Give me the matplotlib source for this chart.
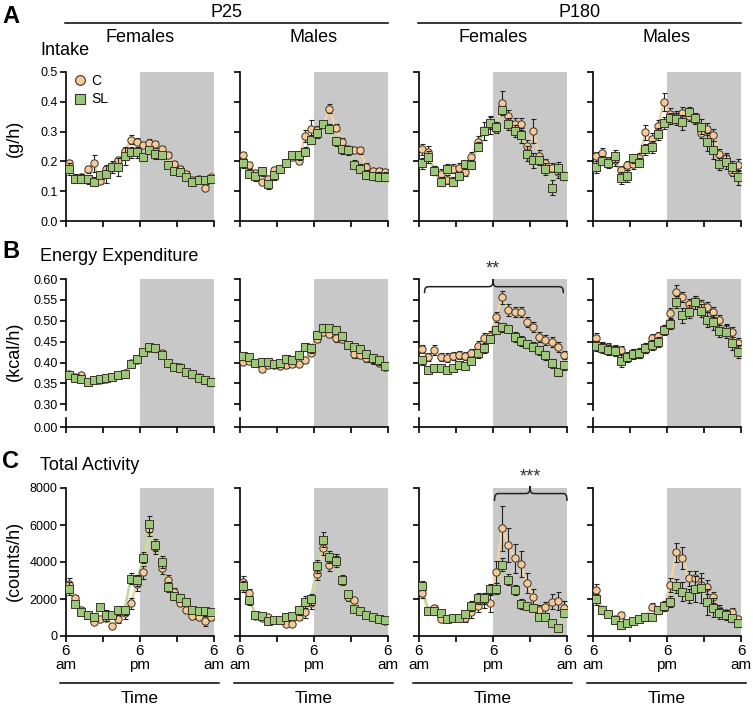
import numpy as np
import matplotlib
matplotlib.use('Agg')
import matplotlib.pyplot as plt
from matplotlib.path import Path
from matplotlib.patches import PathPatch
from matplotlib.lines import Line2D

plt.rcParams['font.family'] = ['Liberation Sans', 'DejaVu Sans']

# hourly bins, 6 am -> 6 am
hours = np.arange(24) + 0.5

# ---- Intake (g/h) ----
intake_p25_f_c = [0.193, 0.145, 0.148, 0.174, 0.193, 0.133, 0.176, 0.185, 0.204, 0.234, 0.272, 0.266,
                  0.254, 0.262, 0.257, 0.243, 0.221, 0.190, 0.176, 0.159, 0.137, 0.142, 0.112, 0.146]
intake_p25_f_sl = [0.176, 0.142, 0.142, 0.140, 0.131, 0.154, 0.157, 0.182, 0.182, 0.217, 0.230, 0.230,
                   0.215, 0.238, 0.224, 0.221, 0.187, 0.168, 0.165, 0.146, 0.131, 0.139, 0.137, 0.142]
intake_p25_m_c = [0.221, 0.187, 0.160, 0.131, 0.140, 0.170, 0.176, 0.196, 0.215, 0.200, 0.286, 0.310,
                  0.307, 0.324, 0.376, 0.313, 0.266, 0.241, 0.238, 0.238, 0.182, 0.168, 0.168, 0.165]
intake_p25_m_sl = [0.193, 0.159, 0.150, 0.167, 0.123, 0.154, 0.176, 0.196, 0.221, 0.221, 0.232, 0.273,
                   0.294, 0.324, 0.310, 0.268, 0.241, 0.238, 0.189, 0.176, 0.156, 0.151, 0.148, 0.148]
intake_p180_f_c = [0.240, 0.232, 0.170, 0.159, 0.139, 0.176, 0.179, 0.165, 0.215, 0.266, 0.302, 0.322,
                   0.310, 0.397, 0.353, 0.325, 0.325, 0.252, 0.302, 0.219, 0.193, 0.179, 0.165, 0.151]
intake_p180_f_sl = [0.193, 0.215, 0.168, 0.131, 0.176, 0.131, 0.151, 0.190, 0.189, 0.249, 0.302, 0.330,
                    0.316, 0.372, 0.327, 0.302, 0.288, 0.226, 0.204, 0.204, 0.173, 0.111, 0.179, 0.151]
intake_p180_m_c = [0.217, 0.229, 0.200, 0.206, 0.170, 0.187, 0.190, 0.213, 0.297, 0.274, 0.318, 0.398,
                   0.358, 0.350, 0.361, 0.352, 0.339, 0.294, 0.310, 0.288, 0.226, 0.213, 0.165, 0.187]
intake_p180_m_sl = [0.182, 0.202, 0.193, 0.219, 0.145, 0.151, 0.210, 0.195, 0.240, 0.249, 0.291, 0.330,
                    0.344, 0.342, 0.331, 0.367, 0.344, 0.316, 0.266, 0.238, 0.190, 0.198, 0.182, 0.146]

intake_p25_f_c_err = [0.012, 0.010, 0.010, 0.012, 0.030, 0.008, 0.010, 0.008, 0.010, 0.012, 0.015, 0.012,
                      0.010, 0.012, 0.012, 0.010, 0.010, 0.010, 0.008, 0.010, 0.008, 0.008, 0.008, 0.008]
intake_p25_f_sl_err = [0.020, 0.015, 0.015, 0.015, 0.015, 0.010, 0.030, 0.020, 0.030, 0.030, 0.018, 0.020,
                       0.012, 0.012, 0.015, 0.012, 0.010, 0.010, 0.010, 0.010, 0.012, 0.012, 0.012, 0.010]
intake_p25_m_c_err = [0.010, 0.010, 0.010, 0.010, 0.010, 0.010, 0.010, 0.010, 0.010, 0.010, 0.020, 0.030,
                      0.012, 0.010, 0.015, 0.012, 0.012, 0.010, 0.010, 0.012, 0.012, 0.010, 0.010, 0.010]
intake_p25_m_sl_err = [0.015, 0.015, 0.015, 0.015, 0.015, 0.015, 0.012, 0.012, 0.012, 0.015, 0.015, 0.015,
                       0.015, 0.012, 0.015, 0.015, 0.015, 0.015, 0.015, 0.015, 0.015, 0.012, 0.015, 0.015]
intake_p180_f_c_err = [0.020, 0.020, 0.015, 0.015, 0.015, 0.015, 0.015, 0.015, 0.015, 0.020, 0.030, 0.030,
                       0.015, 0.040, 0.020, 0.020, 0.020, 0.020, 0.040, 0.020, 0.015, 0.015, 0.020, 0.015]
intake_p180_f_sl_err = [0.020, 0.020, 0.015, 0.015, 0.015, 0.015, 0.015, 0.015, 0.015, 0.015, 0.015, 0.020,
                        0.015, 0.015, 0.020, 0.020, 0.025, 0.025, 0.025, 0.015, 0.020, 0.025, 0.020, 0.015]
intake_p180_m_c_err = [0.015, 0.015, 0.015, 0.020, 0.015, 0.015, 0.015, 0.015, 0.025, 0.020, 0.020, 0.030,
                       0.020, 0.020, 0.020, 0.015, 0.015, 0.015, 0.020, 0.020, 0.015, 0.015, 0.015, 0.020]
intake_p180_m_sl_err = [0.020, 0.015, 0.015, 0.020, 0.020, 0.020, 0.015, 0.015, 0.020, 0.020, 0.020, 0.020,
                        0.020, 0.020, 0.025, 0.015, 0.020, 0.025, 0.030, 0.030, 0.020, 0.025, 0.020, 0.025]

# ---- Energy expenditure (kcal/h) ----
ee_p25_f_c = [0.373, 0.366, 0.369, 0.354, 0.357, 0.358, 0.361, 0.366, 0.369, 0.374, 0.398, 0.406,
              0.425, 0.434, 0.434, 0.424, 0.400, 0.390, 0.389, 0.378, 0.372, 0.366, 0.358, 0.354]
ee_p25_f_sl = [0.370, 0.364, 0.361, 0.354, 0.358, 0.361, 0.364, 0.366, 0.370, 0.373, 0.396, 0.408,
               0.425, 0.436, 0.434, 0.418, 0.398, 0.390, 0.388, 0.377, 0.372, 0.364, 0.357, 0.354]
ee_p25_m_c = [0.402, 0.404, 0.398, 0.384, 0.394, 0.394, 0.392, 0.394, 0.396, 0.397, 0.406, 0.424,
              0.456, 0.474, 0.468, 0.458, 0.456, 0.442, 0.420, 0.418, 0.410, 0.405, 0.400, 0.390]
ee_p25_m_sl = [0.416, 0.414, 0.398, 0.401, 0.402, 0.396, 0.398, 0.408, 0.406, 0.418, 0.437, 0.434,
               0.466, 0.482, 0.482, 0.478, 0.464, 0.442, 0.437, 0.433, 0.420, 0.410, 0.405, 0.392]
ee_p180_f_c = [0.433, 0.414, 0.429, 0.414, 0.412, 0.416, 0.418, 0.416, 0.422, 0.440, 0.458, 0.464,
               0.510, 0.556, 0.526, 0.522, 0.522, 0.498, 0.486, 0.462, 0.454, 0.449, 0.438, 0.418]
ee_p180_f_sl = [0.405, 0.382, 0.386, 0.388, 0.382, 0.386, 0.393, 0.392, 0.404, 0.422, 0.434, 0.456,
                0.478, 0.484, 0.481, 0.460, 0.452, 0.445, 0.438, 0.429, 0.417, 0.398, 0.378, 0.393]
ee_p180_m_c = [0.458, 0.440, 0.437, 0.433, 0.430, 0.414, 0.422, 0.422, 0.434, 0.458, 0.464, 0.480,
               0.518, 0.570, 0.556, 0.540, 0.548, 0.537, 0.533, 0.520, 0.502, 0.481, 0.473, 0.446]
ee_p180_m_sl = [0.440, 0.434, 0.429, 0.428, 0.404, 0.414, 0.420, 0.422, 0.434, 0.442, 0.450, 0.478,
                0.492, 0.545, 0.513, 0.522, 0.544, 0.524, 0.502, 0.496, 0.476, 0.474, 0.446, 0.426]

ee_p25_f_c_err = [0.005, 0.005, 0.005, 0.005, 0.005, 0.005, 0.005, 0.005, 0.005, 0.005, 0.006, 0.006,
                  0.006, 0.006, 0.006, 0.006, 0.006, 0.005, 0.005, 0.005, 0.005, 0.005, 0.005, 0.005]
ee_p25_f_sl_err = [0.008, 0.008, 0.008, 0.008, 0.008, 0.007, 0.007, 0.007, 0.008, 0.008, 0.010, 0.010,
                   0.008, 0.008, 0.008, 0.008, 0.008, 0.008, 0.008, 0.008, 0.008, 0.008, 0.008, 0.010]
ee_p25_m_c_err = [0.006, 0.006, 0.006, 0.006, 0.006, 0.006, 0.006, 0.006, 0.006, 0.006, 0.006, 0.006,
                  0.008, 0.008, 0.008, 0.008, 0.008, 0.008, 0.008, 0.008, 0.008, 0.008, 0.008, 0.008]
ee_p25_m_sl_err = [0.010, 0.010, 0.008, 0.010, 0.010, 0.008, 0.008, 0.010, 0.010, 0.010, 0.010, 0.010,
                   0.010, 0.010, 0.008, 0.010, 0.010, 0.008, 0.008, 0.010, 0.010, 0.010, 0.010, 0.010]
ee_p180_f_c_err = [0.010, 0.010, 0.012, 0.010, 0.010, 0.010, 0.010, 0.010, 0.010, 0.012, 0.012, 0.012,
                   0.012, 0.015, 0.015, 0.012, 0.012, 0.012, 0.012, 0.012, 0.012, 0.012, 0.012, 0.010]
ee_p180_f_sl_err = [0.010, 0.010, 0.008, 0.008, 0.008, 0.008, 0.008, 0.008, 0.008, 0.010, 0.010, 0.010,
                    0.010, 0.010, 0.010, 0.012, 0.012, 0.010, 0.010, 0.010, 0.010, 0.010, 0.010, 0.010]
ee_p180_m_c_err = [0.012, 0.010, 0.010, 0.010, 0.010, 0.010, 0.010, 0.010, 0.010, 0.010, 0.010, 0.010,
                   0.012, 0.015, 0.012, 0.012, 0.012, 0.012, 0.012, 0.012, 0.012, 0.012, 0.012, 0.012]
ee_p180_m_sl_err = [0.012, 0.012, 0.012, 0.012, 0.015, 0.012, 0.012, 0.012, 0.012, 0.012, 0.012, 0.012,
                    0.012, 0.015, 0.018, 0.015, 0.015, 0.015, 0.018, 0.018, 0.015, 0.015, 0.015, 0.015]

# ---- Total activity (counts/h) ----
act_p25_f_c = [2830, 2050, 1420, 1120, 760, 940, 1000, 540, 900, 1240, 1780, 2800,
               3440, 5800, 4800, 3660, 3030, 2380, 1800, 1420, 1080, 1020, 810, 1030]
act_p25_f_sl = [2560, 1710, 1300, 1120, 1030, 1570, 1120, 1120, 1390, 1390, 3100, 3010,
                4230, 6050, 4920, 4000, 2650, 2160, 2070, 1850, 1420, 1330, 1330, 1280]
act_p25_m_c = [2920, 2320, 1100, 970, 1030, 850, 850, 670, 670, 1030, 1300, 1800,
               3330, 4760, 3860, 4130, 3000, 2100, 1930, 1350, 1120, 1030, 900, 800]
act_p25_m_sl = [2700, 1930, 1150, 1060, 790, 850, 850, 1030, 1060, 1390, 1840, 1980,
                3780, 5210, 4270, 4040, 3050, 2250, 1440, 1350, 1120, 1030, 900, 880]
act_p180_f_c = [2340, 1370, 1500, 900, 900, 950, 960, 1000, 1300, 1620, 1940, 1790,
                3480, 5820, 4920, 4200, 3870, 2850, 2120, 1400, 1550, 1850, 1890, 1500]
act_p180_f_sl = [2720, 1370, 1350, 1220, 910, 960, 1000, 1170, 1620, 2050, 2050, 2520,
                 2550, 3840, 3030, 2490, 1730, 1620, 1500, 1040, 1010, 690, 415, 1230]
act_p180_m_c = [2490, 1400, 1190, 900, 1130, 700, 820, 900, 1010, 1590, 1400, 1620,
                2760, 4520, 4230, 3120, 3120, 2760, 2650, 2090, 1400, 1220, 1310, 900]
act_p180_m_sl = [1980, 1400, 1190, 860, 590, 690, 810, 900, 1010, 1050, 1400, 1620,
                 1860, 2700, 2400, 2160, 2520, 2580, 1860, 1530, 1220, 1140, 950, 690]

act_p25_f_c_err = [300, 150, 150, 100, 100, 100, 150, 100, 200, 300, 300, 350,
                   350, 400, 350, 300, 250, 200, 200, 150, 150, 150, 250, 150]
act_p25_f_sl_err = [350, 150, 150, 150, 100, 150, 300, 150, 250, 250, 300, 300,
                    300, 450, 350, 300, 250, 200, 200, 150, 150, 150, 150, 150]
act_p25_m_c_err = [300, 200, 150, 100, 100, 100, 100, 100, 100, 150, 300, 350,
                   300, 400, 350, 300, 250, 200, 150, 150, 150, 100, 100, 100]
act_p25_m_sl_err = [300, 250, 150, 150, 100, 100, 100, 100, 150, 250, 300, 300,
                    350, 400, 300, 300, 250, 200, 150, 150, 150, 100, 100, 100]
act_p180_f_c_err = [300, 200, 200, 150, 150, 150, 150, 250, 300, 300, 400, 500,
                    600, 1200, 900, 800, 700, 550, 400, 300, 300, 400, 500, 400]
act_p180_f_sl_err = [250, 200, 200, 150, 150, 150, 150, 200, 250, 300, 300, 300,
                     300, 350, 300, 250, 250, 200, 200, 150, 150, 150, 150, 200]
act_p180_m_c_err = [300, 200, 150, 150, 150, 150, 150, 150, 150, 200, 200, 250,
                    400, 500, 600, 400, 400, 350, 400, 300, 250, 200, 200, 150]
act_p180_m_sl_err = [300, 200, 150, 150, 150, 150, 150, 150, 150, 150, 200, 200,
                     300, 400, 500, 400, 700, 800, 700, 500, 300, 250, 200, 200]

ages = ['P25', 'P180']
sexes = ['Females', 'Males']

intake = [(intake_p25_f_c, intake_p25_f_c_err, intake_p25_f_sl, intake_p25_f_sl_err),
          (intake_p25_m_c, intake_p25_m_c_err, intake_p25_m_sl, intake_p25_m_sl_err),
          (intake_p180_f_c, intake_p180_f_c_err, intake_p180_f_sl, intake_p180_f_sl_err),
          (intake_p180_m_c, intake_p180_m_c_err, intake_p180_m_sl, intake_p180_m_sl_err)]
energy = [(ee_p25_f_c, ee_p25_f_c_err, ee_p25_f_sl, ee_p25_f_sl_err),
          (ee_p25_m_c, ee_p25_m_c_err, ee_p25_m_sl, ee_p25_m_sl_err),
          (ee_p180_f_c, ee_p180_f_c_err, ee_p180_f_sl, ee_p180_f_sl_err),
          (ee_p180_m_c, ee_p180_m_c_err, ee_p180_m_sl, ee_p180_m_sl_err)]
activity = [(act_p25_f_c, act_p25_f_c_err, act_p25_f_sl, act_p25_f_sl_err),
            (act_p25_m_c, act_p25_m_c_err, act_p25_m_sl, act_p25_m_sl_err),
            (act_p180_f_c, act_p180_f_c_err, act_p180_f_sl, act_p180_f_sl_err),
            (act_p180_m_c, act_p180_m_c_err, act_p180_m_sl, act_p180_m_sl_err)]

# colours
C_FILL, C_LINE = '#f5c998', '#f3d3a6'
SL_FILL, SL_LINE = '#9cc67a', '#bcd99f'
EDGE = '#3a3528'
NIGHT = '#c8c8c8'

W, H = 753, 705
fig = plt.figure(figsize=(W / 100, H / 100), dpi=100)


def box(x0, y0, x1, y1):
    return [x0 / W, 1 - y1 / H, (x1 - x0) / W, (y1 - y0) / H]


def fx(x):
    return x / W


def fy(y):
    return 1 - y / H


col_left = [66, 240, 419, 593]
col_w = 148


def base_style(ax):
    ax.spines['top'].set_visible(False)
    ax.spines['right'].set_visible(False)
    ax.spines['left'].set_linewidth(1.2)
    ax.spines['bottom'].set_linewidth(1.2)
    ax.tick_params(direction='out', length=4, width=1.2, labelsize=9, pad=2)
    ax.set_xlim(0, 24)
    ax.set_xticks([0, 6, 12, 18, 24])
    ax.set_xticklabels([])
    ax.axvspan(12, 24, color=NIGHT, lw=0, zorder=0)
    ax.patch.set_alpha(0)


def draw_series(ax, c, c_err, sl, sl_err):
    ax.plot(hours, c, color=C_LINE, lw=1.8, zorder=2)
    ax.plot(hours, sl, color=SL_LINE, lw=1.8, zorder=2)
    ax.errorbar(hours, c, yerr=c_err, fmt='none', ecolor='#222222', elinewidth=0.8,
                capsize=1.8, capthick=0.8, zorder=3)
    ax.plot(hours, c, ls='none', marker='o', ms=5.3, mfc=C_FILL, mec=EDGE, mew=0.7, zorder=4)
    ax.errorbar(hours, sl, yerr=sl_err, fmt='none', ecolor='#222222', elinewidth=0.8,
                capsize=1.8, capthick=0.8, zorder=5)
    ax.plot(hours, sl, ls='none', marker='s', ms=5.3, mfc=SL_FILL, mec=EDGE, mew=0.7, zorder=6)


def brace(ax, x0, x1, xm, y_end, y_mid, y_tip):
    d = 0.9
    verts = [(x0, y_end), (x0, y_mid), (x0 + d * 0.3, y_mid), (x0 + d, y_mid),
             (xm - d, y_mid),
             (xm - 0.3 * d, y_mid), (xm, y_mid), (xm, y_tip),
             (xm, y_mid), (xm + 0.3 * d, y_mid), (xm + d, y_mid),
             (x1 - d, y_mid),
             (x1 - 0.3 * d, y_mid), (x1, y_mid), (x1, y_end)]
    codes = [Path.MOVETO, Path.CURVE4, Path.CURVE4, Path.CURVE4,
             Path.LINETO,
             Path.CURVE4, Path.CURVE4, Path.CURVE4,
             Path.CURVE4, Path.CURVE4, Path.CURVE4,
             Path.LINETO,
             Path.CURVE4, Path.CURVE4, Path.CURVE4]
    ax.add_patch(PathPatch(Path(verts, codes), fill=False, lw=1.1, color='#222222',
                           clip_on=False, zorder=7))


# Row A: intake
for i, (c, ce, sl, se) in enumerate(intake):
    ax = fig.add_axes(box(col_left[i], 72, col_left[i] + col_w, 221))
    base_style(ax)
    draw_series(ax, c, ce, sl, se)
    ax.set_ylim(0, 0.5)
    ax.set_yticks([0.0, 0.1, 0.2, 0.3, 0.4, 0.5])
    if i == 0:
        ax.set_yticklabels(['0.0', '0.1', '0.2', '0.3', '0.4', '0.5'])
        handles = [Line2D([], [], ls='none', marker='o', ms=7, mfc=C_FILL, mec=EDGE, mew=0.8),
                   Line2D([], [], ls='none', marker='s', ms=7, mfc=SL_FILL, mec=EDGE, mew=0.8)]
        ax.legend(handles, ['C', 'SL'], loc='upper left', bbox_to_anchor=(0.0, 1.045),
                  frameon=False, fontsize=10, handlelength=0.8, handletextpad=0.4,
                  labelspacing=0.35, borderaxespad=0.2)
    else:
        ax.set_yticklabels([])

# Row B: energy expenditure, broken axis (upper part 0.30-0.60, lower part 0.00)
px_per_unit = 125.3 / 0.30
ee_lo = 0.60 - (416 - 279) / px_per_unit
ee_spine_lo = 0.30 - 5.7 / px_per_unit
for i, (c, ce, sl, se) in enumerate(energy):
    ax = fig.add_axes(box(col_left[i], 279, col_left[i] + col_w, 416))
    base_style(ax)
    ax.spines['bottom'].set_visible(False)
    ax.spines['left'].set_bounds(ee_spine_lo, 0.60)
    ax.tick_params(axis='x', bottom=False)
    draw_series(ax, c, ce, sl, se)
    ax.set_ylim(ee_lo, 0.60)
    ax.set_yticks([0.30, 0.35, 0.40, 0.45, 0.50, 0.55, 0.60])
    axb = fig.add_axes(box(col_left[i], 416, col_left[i] + col_w, 427))
    base_style(axb)
    axb.spines['left'].set_bounds(0, 0.017)
    axb.set_ylim(0, 0.02)
    axb.set_yticks([0.0])
    if i == 0:
        ax.set_yticklabels(['0.30', '0.35', '0.40', '0.45', '0.50', '0.55', '0.60'])
        axb.set_yticklabels(['0.00'])
    else:
        ax.set_yticklabels([])
        axb.set_yticklabels([])
    if i == 2:
        brace(ax, 0.9, 23.4, 12.0, 0.566, 0.5816, 0.600)
        ax.text(12.0, 0.603, '**', ha='center', va='bottom', fontsize=13,
                color='#333333', clip_on=False)

# Row C: total activity
for i, (c, ce, sl, se) in enumerate(activity):
    ax = fig.add_axes(box(col_left[i], 488, col_left[i] + col_w, 636))
    base_style(ax)
    draw_series(ax, c, ce, sl, se)
    ax.set_ylim(0, 8000)
    ax.set_yticks([0, 2000, 4000, 6000, 8000])
    ax.set_xticklabels(['6\nam', '', '6\npm', '', '6\nam'], fontsize=11, linespacing=0.95)
    if i == 0:
        ax.set_yticklabels(['0', '2000', '4000', '6000', '8000'])
    else:
        ax.set_yticklabels([])
    if i == 2:
        brace(ax, 12.25, 24.0, 18.0, 7300, 7700, 8100)
        ax.text(18.0, 8150, '***', ha='center', va='bottom', fontsize=13,
                color='#333333', clip_on=False)
    # underline + Time label
    fig.add_artist(Line2D([fx(col_left[i] - 6), fx(col_left[i] + col_w + 5)], [fy(683), fy(683)],
                          color='black', lw=1.1))
    fig.text(fx(col_left[i] + col_w / 2), fy(703), 'Time', ha='center', va='baseline', fontsize=12.5)

# headers
for j, age in enumerate(ages):
    x0 = col_left[2 * j] - 1
    x1 = col_left[2 * j + 1] + col_w
    fig.add_artist(Line2D([fx(x0), fx(x1)], [fy(23), fy(23)], color='black', lw=1.1))
    fig.text(fx((x0 + x1) / 2), fy(17), age, ha='center', va='baseline', fontsize=13)
    for k, sex in enumerate(sexes):
        cx = col_left[2 * j + k] + col_w / 2
        fig.text(fx(cx), fy(42), sex, ha='center', va='baseline', fontsize=13)

# panel letters, row titles, y labels
for letter, yb in [('A', 23), ('B', 258), ('C', 468)]:
    fig.text(fx(2), fy(yb), letter, ha='left', va='baseline', fontsize=17, fontweight='bold')
for title, yb in [('Intake', 55), ('Energy Expenditure', 261), ('Total Activity', 470)]:
    fig.text(fx(40), fy(yb), title, ha='left', va='baseline', fontsize=13)
for lab, yc in [('(g/h)', 138), ('(kcal/h)', 351), ('(counts/h)', 561)]:
    fig.text(fx(14), fy(yc), lab, ha='center', va='center', rotation=90, fontsize=13)

fig.savefig('out.png', dpi=100)
